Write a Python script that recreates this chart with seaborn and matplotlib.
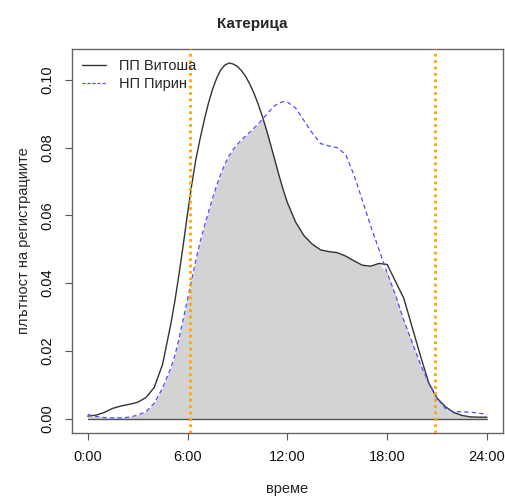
import numpy as np
import pandas as pd
import matplotlib
matplotlib.use("Agg")
import matplotlib.pyplot as plt
import seaborn as sns

hours = [0, 0.5, 1, 1.5, 2, 2.5, 3, 3.5, 4, 4.5,
         5, 5.25, 5.5, 5.75, 6, 6.25, 6.5, 6.75, 7, 7.25, 7.5, 7.75, 8, 8.25, 8.5, 8.75,
         9, 9.25, 9.5, 9.75, 10, 10.25, 10.5, 10.75, 11, 11.25, 11.5, 11.75, 12,
         12.5, 13, 13.5, 14, 14.5, 15, 15.5, 16,
         16.5, 17, 17.5, 18, 18.5, 19, 19.5, 20, 20.5, 21, 21.5, 22, 22.5, 23, 23.5, 24]

vitosha = [0.0007, 0.0010, 0.0018, 0.0030, 0.0037, 0.0042, 0.0048, 0.0062, 0.0092, 0.0160,
           0.0280, 0.0350, 0.0430, 0.0515, 0.0605, 0.0690, 0.0765, 0.0825, 0.0880, 0.0930,
           0.0972, 0.1005, 0.1030, 0.1044, 0.1050, 0.1047,
           0.1040, 0.1027, 0.1010, 0.0987, 0.0960, 0.0928, 0.0892, 0.0852, 0.0808, 0.0763,
           0.0718, 0.0676, 0.0638,
           0.0580, 0.0540, 0.0515, 0.0498, 0.0493, 0.0490, 0.0480, 0.0466,
           0.0453, 0.0450, 0.0458, 0.0455, 0.0405, 0.0355, 0.0270, 0.0185, 0.0105, 0.0060,
           0.0035, 0.0018, 0.0009, 0.0005, 0.0004, 0.0004]

pirin = [0.0012, 0.0006, 0.0003, 0.0002, 0.0002, 0.0004, 0.0010, 0.0020, 0.0045, 0.0090,
         0.0150, 0.0188, 0.0238, 0.0295, 0.0352, 0.0410, 0.0468, 0.0520, 0.0565, 0.0608,
         0.0650, 0.0688, 0.0722, 0.0752, 0.0776, 0.0795,
         0.0810, 0.0823, 0.0835, 0.0846, 0.0858, 0.0870, 0.0884, 0.0898, 0.0912, 0.0924,
         0.0932, 0.0936, 0.0935,
         0.0917, 0.0880, 0.0843, 0.0812, 0.0805, 0.0800, 0.0780, 0.0720,
         0.0646, 0.0570, 0.0500, 0.0430, 0.0365, 0.0290, 0.0225, 0.0160, 0.0105, 0.0060,
         0.0030, 0.0020, 0.0020, 0.0019, 0.0016, 0.0012]

sun_lines = [6.16, 20.86]
x_ticks = [0, 6, 12, 18, 24]
x_tick_labels = ["0:00", "6:00", "12:00", "18:00", "24:00"]
y_ticks = [0.00, 0.02, 0.04, 0.06, 0.08, 0.10]
y_tick_labels = ["0.00", "0.02", "0.04", "0.06", "0.08", "0.10"]
series_names = ["ПП Витоша", "НП Пирин"]

sns.set_style("white")
plt.rcParams["font.family"] = ["Liberation Sans", "DejaVu Sans"]

df = pd.DataFrame({
    "hour": hours * 2,
    "density": vitosha + pirin,
    "park": [series_names[0]] * len(hours) + [series_names[1]] * len(hours),
})

fig = plt.figure(figsize=(5.05, 4.98), dpi=100)
ax = fig.add_axes([0.142, 0.131, 0.854, 0.771])

overlap = np.minimum(np.array(vitosha), np.array(pirin))
ax.fill_between(hours, 0, overlap, color="#D3D3D3", linewidth=0, zorder=1)
ax.plot([hours[0], hours[-1]], [0, 0], color="#555555", lw=1.0, zorder=2)

sns.lineplot(data=df[df.park == series_names[0]], x="hour", y="density", ax=ax,
             color="#333333", lw=1.0, label=series_names[0], zorder=3)
sns.lineplot(data=df[df.park == series_names[1]], x="hour", y="density", ax=ax,
             color="#4d4dff", lw=0.9, label=series_names[1], zorder=3)
ax.lines[-1].set_dashes((3.5, 2.5))

for s in sun_lines:
    ax.axvline(s, color="#FFA500", lw=2.0, linestyle=(0, (1, 1.3)), zorder=4)

ymax = max(vitosha)
ax.set_xlim(-0.96, 24.96)
ax.set_ylim(-0.04 * ymax, 1.04 * ymax)
ax.set_xticks(x_ticks)
ax.set_xticklabels(x_tick_labels)
ax.set_yticks(y_ticks)
ax.set_yticklabels(y_tick_labels, rotation=90, va="center")

for sp in ax.spines.values():
    sp.set_visible(True)
    sp.set_color("#666666")
    sp.set_linewidth(1.0)

ax.tick_params(axis="both", direction="out", length=5, width=0.8, color="#555555",
               labelsize=10.5, pad=7.5, labelcolor="#111111",
               bottom=True, left=True)

ax.set_xlabel("време", fontsize=10.5, labelpad=13)
ax.set_ylabel("плътност на регистрациите", fontsize=10.5, labelpad=7)
fig.suptitle("Катерица", fontsize=11, fontweight="bold", y=0.966)

leg = ax.legend(loc="upper left", frameon=False, fontsize=10.5,
                handlelength=1.65, handletextpad=0.9, labelspacing=0.25,
                borderaxespad=0.3)
leg.get_lines()[1].set_dashes((2.5, 1.5))

fig.savefig("out.png", dpi=100)
